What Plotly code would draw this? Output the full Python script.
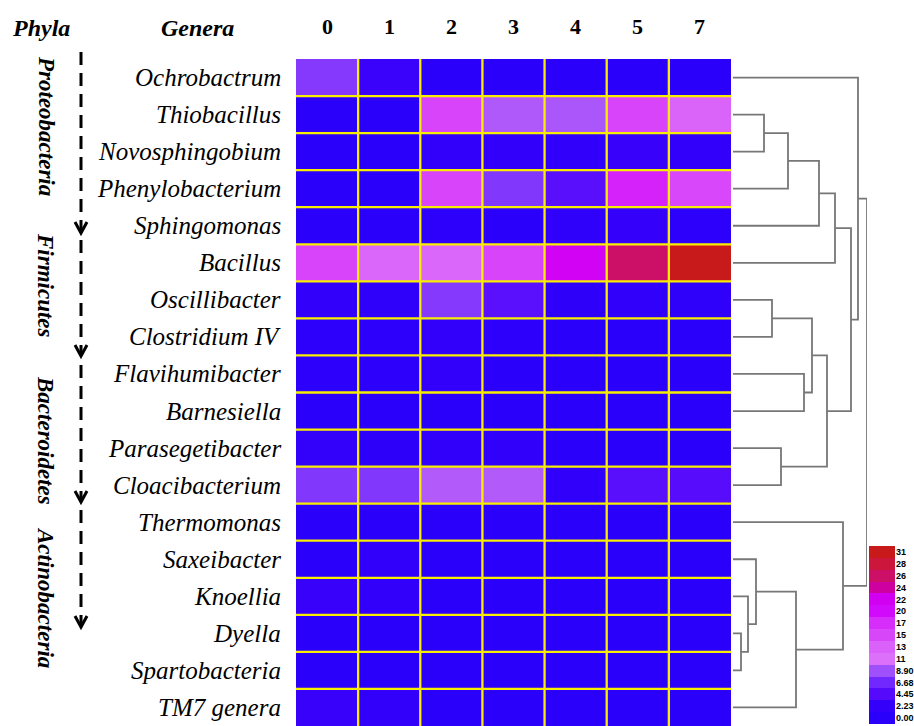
import plotly.graph_objects as go

W, H = 914, 726

# ---------------------------------------------------------------- data
samples = ["0", "1", "2", "3", "4", "5", "7"]

genera = [
    "Ochrobactrum", "Thiobacillus", "Novosphingobium", "Phenylobacterium",
    "Sphingomonas", "Bacillus", "Oscillibacter", "Clostridium IV",
    "Flavihumibacter", "Barnesiella", "Parasegetibacter", "Cloacibacterium",
    "Thermomonas", "Saxeibacter", "Knoellia", "Dyella", "Spartobacteria",
    "TM7 genera",
]

# relative abundance (%) per genus (rows) and sample (columns)
abundance = [
    [7.6, 2.6, 0.3, 0.3, 0.3, 0.3, 0.3],
    [0.3, 0.3, 15.8, 9.5, 9.3, 15.8, 13.0],
    [0.3, 0.3, 1.8, 1.8, 1.4, 2.4, 1.8],
    [0.3, 0.3, 15.8, 7.5, 4.8, 18.5, 15.5],
    [0.3, 0.3, 0.4, 0.3, 1.2, 2.2, 0.5],
    [15.8, 12.8, 12.5, 15.8, 21.5, 26.7, 31.2],
    [1.8, 1.2, 7.6, 4.9, 1.0, 1.6, 1.2],
    [0.5, 0.5, 1.8, 0.5, 0.3, 0.3, 0.3],
    [0.4, 0.4, 1.8, 0.3, 0.3, 0.3, 0.3],
    [0.3, 0.3, 0.3, 0.3, 0.3, 0.3, 0.3],
    [1.9, 0.6, 1.6, 1.6, 0.3, 0.3, 0.3],
    [7.5, 7.5, 9.6, 9.6, 1.4, 4.8, 4.6],
    [0.3, 0.3, 0.3, 0.3, 0.3, 0.3, 0.3],
    [0.3, 1.6, 0.3, 0.3, 0.3, 0.3, 0.3],
    [2.4, 1.8, 0.3, 0.3, 0.3, 0.3, 0.3],
    [0.3, 0.3, 0.3, 0.3, 0.3, 0.3, 0.3],
    [0.3, 0.3, 0.3, 0.3, 0.3, 0.3, 0.3],
    [2.4, 1.8, 0.3, 0.3, 0.3, 0.3, 0.3],
]

phyla = ["Proteobacteria", "Firmicutes", "Bacteroidetes", "Actinobacteria"]

# hierarchical clustering of the genera: (child a, child b, height);
# ids below len(genera) are leaves, later ids are earlier merges
merges = [
    (15, 16, 8), (14, 18, 15), (13, 19, 23), (1, 2, 31), (6, 7, 39),
    (10, 11, 48), (21, 3, 55), (20, 17, 63), (8, 9, 71), (22, 26, 79),
    (24, 4, 86), (27, 23, 94), (28, 5, 102), (12, 25, 110), (30, 29, 118),
    (0, 32, 125), (33, 31, 134),
]

legend_values = [0.00, 2.23, 4.45, 6.68, 8.90, 11.1, 13.4, 15.6, 17.8,
                 20.0, 22.3, 24.5, 26.7, 28.9, 31.2]
legend_labels = ["0.00", "2.23", "4.45", "6.68", "8.90", "11", "13", "15",
                 "17", "20", "22", "24", "26", "28", "31"]

# ---------------------------------------------------------------- styling
legend_colors = [
    "rgb(42,0,250)", "rgb(52,0,250)", "rgb(85,10,252)", "rgb(112,40,255)",
    "rgb(160,80,250)", "rgb(220,112,250)", "rgb(218,98,250)",
    "rgb(216,70,250)", "rgb(214,45,250)", "rgb(210,10,252)",
    "rgb(210,0,240)", "rgb(206,0,160)", "rgb(204,16,104)", "rgb(204,22,60)",
    "rgb(200,26,26)",
]
zmin, zmax = legend_values[0], legend_values[-1]
colorscale = [[(v - zmin) / (zmax - zmin), c]
              for v, c in zip(legend_values, legend_colors)]

SERIF = "Liberation Serif"
GRID = "#F7EE00"
TREE = "#777777"


def px_x(x):
    return x / W


def px_y(y):
    return 1 - y / H


n_rows, n_cols = len(genera), len(samples)

# heatmap block and dendrogram block positions (pixels)
HM_LEFT, HM_RIGHT, HM_TOP, HM_BOTTOM = 296, 731, 59, 726
TREE_LEFT, TREE_RIGHT = 733, 867
LEG_LEFT, LEG_RIGHT, LEG_TOP, LEG_BOTTOM = 869, 895, 546, 724

fig = go.Figure()

fig.add_trace(go.Heatmap(
    z=abundance, x=list(range(n_cols)), y=list(range(n_rows)),
    colorscale=colorscale, zmin=zmin, zmax=zmax, showscale=False,
    hovertemplate="%{customdata}<extra></extra>",
    customdata=[[f"{g} / {s}" for s in samples] for g in genera],
    xaxis="x", yaxis="y",
))

# dendrogram lines built from the merge table
pos = {i: (0.0, float(i)) for i in range(n_rows)}
dx, dy = [], []
for k, (a, b, h) in enumerate(merges):
    ha, ya = pos[a]
    hb, yb = pos[b]
    dx += [ha, h, h, hb, None]
    dy += [ya, ya, yb, yb, None]
    pos[n_rows + k] = (h, (ya + yb) / 2)

fig.add_trace(go.Scatter(
    x=dx, y=dy, mode="lines", line=dict(color=TREE, width=1.8),
    hoverinfo="skip", showlegend=False, xaxis="x2", yaxis="y",
))

# stepped colour key
fig.add_trace(go.Heatmap(
    z=[[v] for v in legend_values], x=[0], y=list(range(len(legend_values))),
    colorscale=colorscale, zmin=zmin, zmax=zmax, showscale=False,
    hoverinfo="skip", xaxis="x3", yaxis="y3",
))

hidden = dict(visible=False, showgrid=False, zeroline=False, fixedrange=True,
              automargin=False)
fig.update_layout(
    width=W, height=H, autosize=False, margin=dict(l=0, r=0, t=0, b=0, pad=0),
    paper_bgcolor="white", plot_bgcolor="white", showlegend=False,
    xaxis=dict(domain=[px_x(HM_LEFT), px_x(HM_RIGHT)],
               range=[-0.5, n_cols - 0.5], anchor="y", **hidden),
    yaxis=dict(domain=[px_y(HM_BOTTOM), px_y(HM_TOP)],
               range=[n_rows - 0.5, -0.5], anchor="x", **hidden),
    xaxis2=dict(domain=[px_x(TREE_LEFT), px_x(TREE_RIGHT)],
                range=[0, merges[-1][2]], anchor="y", **hidden),
    xaxis3=dict(domain=[px_x(LEG_LEFT), px_x(LEG_RIGHT)],
                range=[-0.5, 0.5], anchor="y3", **hidden),
    yaxis3=dict(domain=[px_y(LEG_BOTTOM), px_y(LEG_TOP)],
                range=[-0.5, len(legend_values) - 0.5], anchor="x3",
                side="right", tickmode="array",
                tickvals=list(range(len(legend_values))),
                ticktext=legend_labels, ticks="", showline=False,
                showgrid=False, zeroline=False, fixedrange=True,
                automargin=False,
                tickfont=dict(family="Liberation Sans", size=9,
                              color="black", weight="bold"),
                ticklabelstandoff=0),
)

# yellow cell borders between samples and between genera
for i in range(1, n_cols):
    fig.add_shape(type="line", xref="x", yref="y",
                  x0=i - 0.5, x1=i - 0.5, y0=-0.5, y1=n_rows - 0.5,
                  line=dict(color=GRID, width=2.3), layer="above")
for j in range(1, n_rows):
    fig.add_shape(type="line", xref="x", yref="y",
                  x0=-0.5, x1=n_cols - 0.5, y0=j - 0.5, y1=j - 0.5,
                  line=dict(color=GRID, width=2.3), layer="above")

centered = dict(showarrow=False, xanchor="center", yanchor="middle")

# column headers
for i, s in enumerate(samples):
    fig.add_annotation(x=i, xref="x", y=px_y(27), yref="paper",
                       text=f"<b>{s}</b>",
                       font=dict(family=SERIF, size=22, color="black"),
                       **centered)

for label, cx in (("Phyla", 41), ("Genera", 197)):
    fig.add_annotation(x=px_x(cx), xref="paper", y=px_y(28), yref="paper",
                       text=f"<b><i>{label}</i></b>",
                       font=dict(family=SERIF, size=24, color="black"),
                       **centered)

# genus names
for j, g in enumerate(genera):
    fig.add_annotation(x=px_x(283), xref="paper", y=j, yref="y",
                       xanchor="right", yanchor="middle",
                       text=f"<i>{g}</i>", showarrow=False,
                       font=dict(family=SERIF, size=25, color="black"))

# phylum labels and dashed arrows beside each group
PHYLUM_CENTER = [126, 285, 440, 597]
ARROW_SPAN = [(52, 233), (240, 356), (365, 502), (510, 627)]
ARROW_X = 81
for name, cy, (y0, y1) in zip(phyla, PHYLUM_CENTER, ARROW_SPAN):
    fig.add_annotation(x=px_x(46), xref="paper", y=px_y(cy), yref="paper",
                       text=f"<b><i>{name}</i></b>", textangle=90,
                       font=dict(family=SERIF, size=23, color="black"),
                       **centered)
    fig.add_shape(type="line", xref="paper", yref="paper",
                  x0=px_x(ARROW_X), x1=px_x(ARROW_X),
                  y0=px_y(y0), y1=px_y(y1 - 3),
                  line=dict(color="black", width=3, dash="13px,8px"))
    fig.add_shape(type="path", xref="paper", yref="paper",
                  path=(f"M {px_x(ARROW_X - 6)} {px_y(y1 - 11)} "
                        f"L {px_x(ARROW_X)} {px_y(y1)} "
                        f"L {px_x(ARROW_X + 6)} {px_y(y1 - 11)}"),
                  line=dict(color="black", width=3))

fig.write_html("out.html", config={"responsive": False,
                                   "displayModeBar": False})
